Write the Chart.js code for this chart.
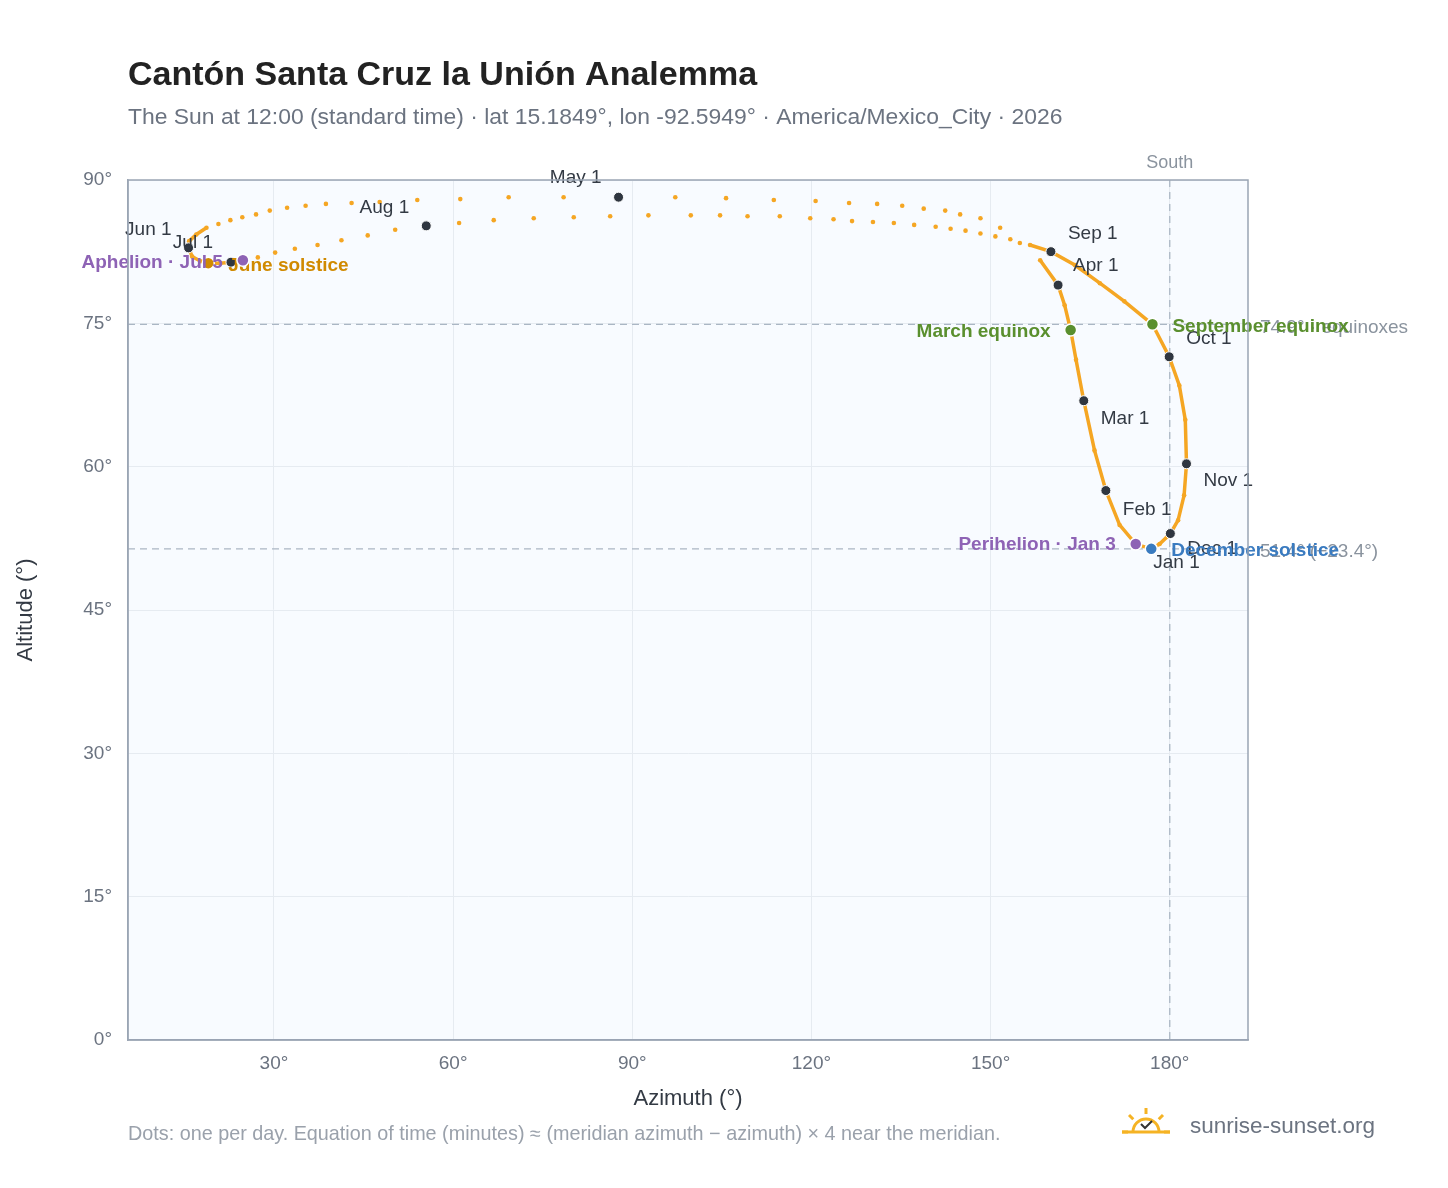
<!DOCTYPE html>
<html><head><meta charset="utf-8">
<script src="https://cdn.jsdelivr.net/npm/chart.js@4"></script>
<style>html,body{margin:0;padding:0;background:#fff}#c{display:block}</style>
</head><body><canvas id="c" width="1448" height="1188"></canvas>
<script>
const azimuth=[176.9,174.3,171.6,169.3,167.4,165.6,164.3,163.4,162.4,161.3,158.3,154.9,151.6,148.3,144.9,142.4,138.8,135.2,131.0,126.3,120.7,113.7,105.7,97.2,87.7,78.5,69.3,61.2,54.0,47.7,43.0,38.7,35.3,32.2,29.3,27.0,24.7,22.7,20.7,18.7,17.0,15.8,15.7,16.3,17.7,19.0,21.0,22.8,24.8,27.3,30.2,33.5,37.3,41.3,45.7,50.3,55.5,61.0,66.8,73.5,80.2,86.3,92.7,99.8,104.7,109.3,114.7,119.8,123.7,126.8,130.3,133.8,137.2,140.8,143.3,145.8,148.3,150.8,153.3,156.6,160.1,164.1,168.3,172.4,177.1,179.9,181.6,182.6,182.8,182.4,181.4,180.1,178.3,176.9];
const altitude=[51.4,51.9,53.9,57.5,61.7,66.9,71.2,74.3,76.9,79.0,81.6,83.4,85.0,86.0,86.4,86.8,87.0,87.3,87.5,87.6,87.8,87.9,88.1,88.2,88.2,88.2,88.2,88.0,87.9,87.7,87.6,87.5,87.3,87.1,86.8,86.4,86.1,85.8,85.4,85.0,84.3,83.6,82.9,82.0,81.5,81.3,81.3,81.4,81.6,81.9,82.4,82.8,83.2,83.7,84.2,84.8,85.2,85.5,85.8,86.0,86.1,86.2,86.3,86.3,86.3,86.2,86.2,86.0,85.9,85.7,85.6,85.5,85.3,85.1,84.9,84.7,84.4,84.1,83.8,83.2,82.5,81.1,79.2,77.3,74.9,71.5,68.5,64.9,60.3,57.0,54.4,53.0,51.9,51.4];
const monthNames=['Jan 1','Feb 1','Mar 1','Apr 1','May 1','Jun 1','Jul 1','Aug 1','Sep 1','Oct 1','Nov 1','Dec 1'];
const monthAz=[176.9,169.3,165.6,161.3,87.7,15.7,22.8,55.5,160.1,179.9,182.8,180.1];
const monthAlt=[51.4,57.5,66.9,79.0,88.2,82.9,81.4,85.2,82.5,71.5,60.3,53.0];
const events=['March equinox','June solstice','September equinox','December solstice','Aphelion · Jul 5','Perihelion · Jan 3'];
const eventAz=[163.4,19.0,177.1,176.9,24.8,174.3];
const eventAlt=[74.3,81.3,74.9,51.4,81.6,51.9];
const eventColors=['#5a8f2e','#d08a00','#5a8f2e','#3a7bc0','#8e63b5','#8e63b5'];
const xTicks=[30,60,90,120,150,180];
const yTicks=[0,15,30,45,60,75,90];
const refAlt=[74.9,51.4];
const refLabels=['74.9° · equinoxes','51.4° (−23.4°)'];

const F='"Liberation Sans", Arial, sans-serif';
const pts=azimuth.map((a,i)=>({x:a,y:altitude[i]}));
const dense=(a,b)=>(a.x>=156&&b.x>=156)||(a.x<=25&&b.x<=25&&a.y<85.2&&b.y<85.2);
const overlay={id:'overlay',
 beforeDatasetsDraw(c){const {ctx,chartArea:a,scales:{x,y}}=c;ctx.save();
  ctx.setLineDash([7,5]);ctx.strokeStyle='#aab6c4';ctx.lineWidth=1.3;
  refAlt.forEach(v=>{const py=y.getPixelForValue(v);ctx.beginPath();ctx.moveTo(a.left,py);ctx.lineTo(a.right,py);ctx.stroke();});
  const sx=x.getPixelForValue(180);ctx.beginPath();ctx.moveTo(sx,a.top);ctx.lineTo(sx,a.bottom);ctx.stroke();
  ctx.setLineDash([]);ctx.restore();},
 afterDatasetsDraw(c){const {ctx,chartArea:a,scales:{x,y}}=c;ctx.save();
  ctx.fillStyle='#8a939e';ctx.font='18px '+F;ctx.textAlign='center';ctx.textBaseline='bottom';
  ctx.fillText('South',x.getPixelForValue(180),a.top-8);
  ctx.textAlign='left';ctx.textBaseline='middle';ctx.font='19px '+F;
  refLabels.forEach((t,i)=>ctx.fillText(t,a.right+12,y.getPixelForValue(refAlt[i])+3));
  monthAz.forEach((v,i)=>{const px=x.getPixelForValue(v),py=y.getPixelForValue(monthAlt[i]);
   ctx.beginPath();ctx.arc(px,py,5,0,7);ctx.fillStyle='#2f3640';ctx.fill();ctx.strokeStyle='#fff';ctx.lineWidth=1;ctx.stroke();});
  const moff=[[2,14,'left'],[17,19,'left'],[17,18,'left'],[15,-19,'left'],[-17,-19,'right'],[-17,-18,'right'],[-18,-19,'right'],[-17,-18,'right'],[17,-18,'left'],[17,-18,'left'],[17,17,'left'],[17,15,'left']];
  ctx.font='19px '+F;ctx.fillStyle='#333a44';
  monthNames.forEach((t,i)=>{const px=x.getPixelForValue(monthAz[i]),py=y.getPixelForValue(monthAlt[i]);const o=moff[i];
   ctx.textAlign=o[2];ctx.fillText(t,px+o[0],py+o[1]);});
  const eoff=[[-20,2,'right'],[20,3,'left'],[20,2,'left'],[20,2,'left'],[-20,2,'right'],[-20,1,'right']];
  events.forEach((t,i)=>{const px=x.getPixelForValue(eventAz[i]),py=y.getPixelForValue(eventAlt[i]);
   ctx.beginPath();ctx.arc(px,py,6,0,7);ctx.fillStyle=eventColors[i];ctx.fill();ctx.strokeStyle='#fff';ctx.lineWidth=1.5;ctx.stroke();
   ctx.font='bold 19px '+F;ctx.textAlign=eoff[i][2];ctx.fillText(t,px+eoff[i][0],py+eoff[i][1]);});
  ctx.textAlign='left';ctx.textBaseline='alphabetic';
  ctx.fillStyle='#222';ctx.font='bold 34px '+F;ctx.fillText('Cantón Santa Cruz la Unión Analemma',128,85);
  ctx.fillStyle='#6b7380';ctx.font='22.9px '+F;ctx.fillText('The Sun at 12:00 (standard time) · lat 15.1849°, lon -92.5949° · America/Mexico_City · 2026',128,124);
  ctx.fillStyle='#333a44';ctx.font='22px '+F;ctx.textAlign='center';ctx.fillText('Azimuth (°)',688,1105);
  ctx.save();ctx.translate(32,610);ctx.rotate(-Math.PI/2);ctx.fillText('Altitude (°)',0,0);ctx.restore();
  ctx.textAlign='left';ctx.fillStyle='#9aa1ab';ctx.font='19.8px '+F;
  ctx.fillText('Dots: one per day. Equation of time (minutes) ≈ (meridian azimuth − azimuth) × 4 near the meridian.',128,1140);
  ctx.fillStyle='#6b7380';ctx.font='22.5px '+F;ctx.fillText('sunrise-sunset.org',1190,1133);
  ctx.strokeStyle='#f5b324';ctx.lineWidth=3;ctx.beginPath();ctx.arc(1146,1132,13,Math.PI,2*Math.PI);ctx.stroke();
  for(let k=0;k<5;k++){const an=Math.PI+k*Math.PI/4;ctx.beginPath();ctx.moveTo(1146+Math.cos(an)*18,1132+Math.sin(an)*18);ctx.lineTo(1146+Math.cos(an)*24,1132+Math.sin(an)*24);ctx.stroke();}
  ctx.beginPath();ctx.moveTo(1122,1132);ctx.lineTo(1170,1132);ctx.stroke();
  ctx.strokeStyle='#333';ctx.lineWidth=2;ctx.beginPath();ctx.moveTo(1141,1124);ctx.lineTo(1145,1128);ctx.lineTo(1152,1121);ctx.stroke();
  ctx.restore();}
};
const bg={id:'bg',beforeDraw(c){const {ctx,chartArea:a}=c;ctx.save();ctx.fillStyle='#fff';ctx.fillRect(0,0,c.width,c.height);ctx.fillStyle='#f8fbff';ctx.fillRect(a.left,a.top,a.right-a.left,a.bottom-a.top);ctx.restore();}};
new Chart(document.getElementById('c'),{type:'scatter',
 data:{datasets:[{data:pts,showLine:true,borderWidth:3.5,pointRadius:2.3,pointBackgroundColor:'#f5a623',pointBorderWidth:0,
  segment:{borderColor:s=>dense(pts[s.p0DataIndex],pts[s.p1DataIndex])?'#f5a623':'rgba(0,0,0,0)'},borderColor:'#f5a623'}]},
 options:{responsive:false,animation:false,devicePixelRatio:1,
  layout:{padding:{top:180,right:200,left:0,bottom:0}},
  plugins:{legend:{display:false},tooltip:{enabled:false}},
  scales:{
   x:{type:'linear',min:5.56,max:193.1,afterFit:s=>{s.height=148},
    afterBuildTicks:s=>{s.ticks=xTicks.map(v=>({value:v}))},
    ticks:{callback:v=>v+'°',color:'#6b7380',font:{size:19,family:F},padding:12},
    grid:{color:'#e6ebf1',drawTicks:false},border:{color:'#9aa5b4',width:1.5}},
   y:{type:'linear',min:0,max:90,afterFit:s=>{s.width=128},
    afterBuildTicks:s=>{s.ticks=yTicks.map(v=>({value:v}))},
    ticks:{callback:v=>v+'°',color:'#6b7380',font:{size:19,family:F},padding:16},
    grid:{color:'#e6ebf1',drawTicks:false},border:{color:'#9aa5b4',width:1.5}}}},
 plugins:[bg,overlay,{id:'frame',afterDraw(c){const {ctx,chartArea:a}=c;ctx.save();ctx.strokeStyle='#9aa5b4';ctx.lineWidth=1.5;ctx.strokeRect(a.left,a.top,a.right-a.left,a.bottom-a.top);ctx.restore();}}]
});
</script></body></html>
